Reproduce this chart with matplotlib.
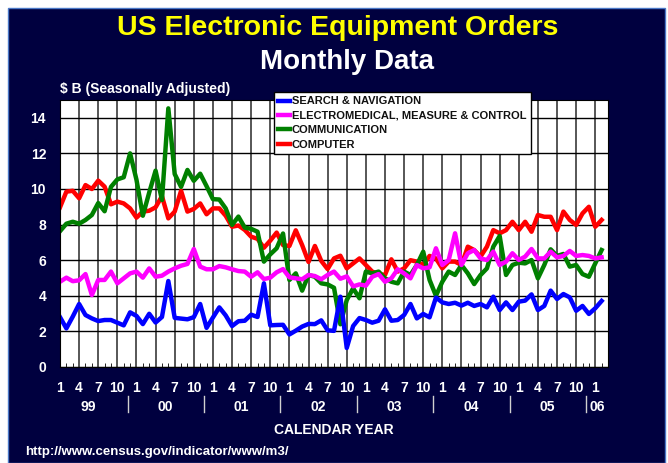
import numpy as np
from matplotlib import pyplot as plt
from matplotlib.patches import Rectangle

plt.rcParams['font.family'] = ['Liberation Sans', 'DejaVu Sans']
plt.rcParams['font.weight'] = 'bold'

# monthly values, Jan 1999 .. Feb 2006 ($ billions, seasonally adjusted)
search_nav = [2.8, 2.17, 2.83, 3.54, 2.92, 2.73, 2.58, 2.64, 2.64, 2.49,
              2.34, 3.07, 2.87, 2.41, 2.99, 2.5, 2.81, 4.83, 2.76, 2.72,
              2.68, 2.8, 3.54, 2.2, 2.78, 3.35, 2.9, 2.3, 2.57, 2.6,
              2.94, 2.81, 4.7, 2.34, 2.36, 2.37, 1.83, 2.04, 2.27, 2.42,
              2.41, 2.62, 2.06, 2.03, 3.95, 1.07, 2.3, 2.75, 2.64, 2.49,
              2.6, 3.24, 2.6, 2.64, 2.92, 3.54, 2.73, 2.98, 2.79, 3.9,
              3.63, 3.54, 3.61, 3.45, 3.61, 3.43, 3.54, 3.35, 3.95, 3.2,
              3.63, 3.2, 3.67, 3.73, 4.08, 3.2, 3.43, 4.29, 3.82, 4.1,
              3.91, 3.16, 3.43, 2.98, 3.3, 3.71]
electromed = [4.79, 5.02, 4.82, 4.87, 5.22, 4.04, 4.89, 4.89, 5.36, 4.7,
              4.98, 5.26, 5.36, 5.02, 5.54, 5.07, 5.13, 5.36, 5.54, 5.69,
              5.79, 6.63, 5.64, 5.49, 5.49, 5.67, 5.6, 5.49, 5.39, 5.36,
              5.07, 5.32, 4.94, 5.02, 5.32, 5.5, 5.04, 4.98, 4.93, 5.17,
              5.11, 4.93, 5.17, 5.36, 4.96, 5.09, 4.53, 4.64, 4.57, 5.07,
              5.22, 4.79, 4.98, 5.49, 5.26, 4.98, 5.73, 5.54, 5.6, 6.67,
              5.73, 6.01, 7.51, 5.73, 6.39, 6.57, 6.1, 6.01, 6.48, 5.73,
              5.92, 6.39, 6.01, 6.2, 6.63, 6.1, 6.1, 6.48, 6.16, 6.24,
              6.52, 6.24, 6.29, 6.24, 6.1, 6.16]
communication = [7.63, 8.05, 8.16, 8.05, 8.26, 8.54, 9.21, 8.75, 10.12, 10.54,
                 10.66, 12.0, 10.52, 8.5, 9.8, 11.03, 9.38, 14.53, 10.84, 10.12,
                 11.07, 10.46, 10.86, 10.16, 9.43, 9.41, 8.91, 7.98, 8.45, 7.83,
                 7.76, 7.6, 5.92, 6.33, 6.67, 7.5, 4.89, 5.26, 4.29, 5.17,
                 5.07, 4.7, 4.64, 4.45, 2.4, 3.76, 4.42, 3.86, 5.36, 5.26,
                 5.36, 4.98, 4.79, 4.7, 5.36, 5.17, 5.73, 6.48, 4.89, 4.0,
                 4.79, 5.36, 5.17, 5.73, 5.26, 4.66, 5.17, 5.54, 6.76, 7.36,
                 5.17, 5.73, 5.86, 5.82, 6.01, 4.98, 5.73, 6.61, 6.24, 6.35,
                 5.64, 5.73, 5.22, 5.07, 5.82, 6.57]
computer = [8.97, 9.85, 9.9, 9.48, 10.22, 10.0, 10.47, 10.13, 9.14, 9.29,
            9.19, 8.91, 8.39, 8.73, 8.78, 8.97, 9.6, 8.35, 8.73, 9.9,
            8.73, 8.88, 9.19, 8.58, 8.91, 8.91, 8.5, 7.88, 7.95, 7.7,
            7.32, 7.2, 6.7, 7.1, 7.55, 6.85, 6.8, 7.68, 6.85, 5.9,
            6.8, 5.96, 5.5, 6.1, 6.25, 5.54, 5.82, 6.1, 5.73, 5.36,
            5.22, 5.17, 6.05, 5.36, 5.54, 6.0, 5.92, 5.73, 6.24, 6.1,
            5.54, 5.92, 5.92, 5.73, 6.76, 6.57, 6.2, 6.76, 7.69, 7.51,
            7.69, 8.16, 7.69, 8.16, 7.6, 8.54, 8.44, 8.44, 7.69, 8.73,
            8.26, 7.98, 8.63, 9.0, 7.88, 8.26]

month_labels = ['1', '4', '7', '10'] * 7 + ['1']
years = ['99', '00', '01', '02', '03', '04', '05']

navy = '#00003f'
months = np.arange(len(computer))

fig = plt.figure(figsize=(6.68, 4.63), dpi=100, facecolor='white')
fig.patches.append(Rectangle((8 / 668, 0), 657 / 668, 455 / 463, transform=fig.transFigure,
                             facecolor=navy, edgecolor='#4a78c8', lw=1, zorder=-1))

ax = fig.add_axes([60 / 668, 96 / 463, 548 / 668, 267 / 463])
ax.set_facecolor('white')

# drawn back to front: computer first, search & navigation on top
l4, = ax.plot(months, computer, color='#ff0000', lw=3.2, label='COMPUTER')
l3, = ax.plot(months, communication, color='#008000', lw=3.2, label='COMMUNICATION')
l2, = ax.plot(months, electromed, color='#ff00ff', lw=3.2, label='ELECTROMEDICAL, MEASURE & CONTROL')
l1, = ax.plot(months, search_nav, color='#0000ff', lw=3.2, label='SEARCH & NAVIGATION')

ax.set_xlim(0, 86)
ax.set_ylim(0, 15)
ax.set_yticks(np.arange(0, 15, 2))
ax.set_xticks(np.arange(0, 85, 3))
ax.set_xticklabels(month_labels)
ax.set_xticks(np.arange(0, 86, 1), minor=True)
ax.grid(True, axis='y', color='black', lw=1)
ax.grid(True, axis='x', color='#3a3a3a', lw=1.2)
ax.set_axisbelow(True)
ax.tick_params(axis='both', which='major', length=0, colors='white', labelsize=10)
ax.tick_params(axis='y', pad=10)
ax.tick_params(axis='x', pad=10)
ax.tick_params(axis='x', which='minor', direction='in', length=3, color='black')
for s in ax.spines.values():
    s.set_color('black')

# year row
trans = ax.get_xaxis_transform()
for k, yr in enumerate(years):
    ax.text(12 * k + 4.5, -0.148, yr, transform=trans, ha='center', va='center',
            color='white', fontsize=10)
    if k > 0:
        ax.plot([12 * k - 1.4] * 2, [-0.11, -0.17], transform=trans, color='#d0d0d0',
                lw=1, clip_on=False)
ax.plot([82.6] * 2, [-0.11, -0.17], transform=trans, color='#d0d0d0', lw=1, clip_on=False)
ax.text(84.3, -0.148, '06', transform=trans, ha='center', va='center', color='white', fontsize=10)

leg = ax.legend(handles=[l1, l2, l3, l4], loc='upper left',
                bbox_to_anchor=(274 / 668, 1 - 92 / 463),
                bbox_transform=fig.transFigure, fontsize=8, frameon=True, fancybox=False,
                framealpha=1, handlelength=1.0, handletextpad=0.2, labelspacing=0.4,
                borderpad=0.4, borderaxespad=0)
leg.get_frame().set_edgecolor('black')
leg.get_frame().set_linewidth(1)
for t in leg.get_texts():
    t.set_color('#111111')

fig.text(338 / 668, 1 - 28 / 463, 'US Electronic Equipment Orders', color='#ffff00',
         fontsize=20.5, ha='center', va='center')
fig.text(347 / 668, 1 - 62 / 463, 'Monthly Data', color='white', fontsize=20,
         ha='center', va='center')
fig.text(60 / 668, 1 - 89 / 463, '$ B (Seasonally Adjusted)', color='white', fontsize=10,
         ha='left', va='center')
fig.text(334 / 668, 1 - 430 / 463, 'CALENDAR YEAR', color='white', fontsize=10,
         ha='center', va='center')
fig.text(25 / 668, 1 - 452 / 463, 'http://www.census.gov/indicator/www/m3/', color='white',
         fontsize=9.5, ha='left', va='center')

plt.savefig('out.png', dpi=100, facecolor=fig.get_facecolor())
